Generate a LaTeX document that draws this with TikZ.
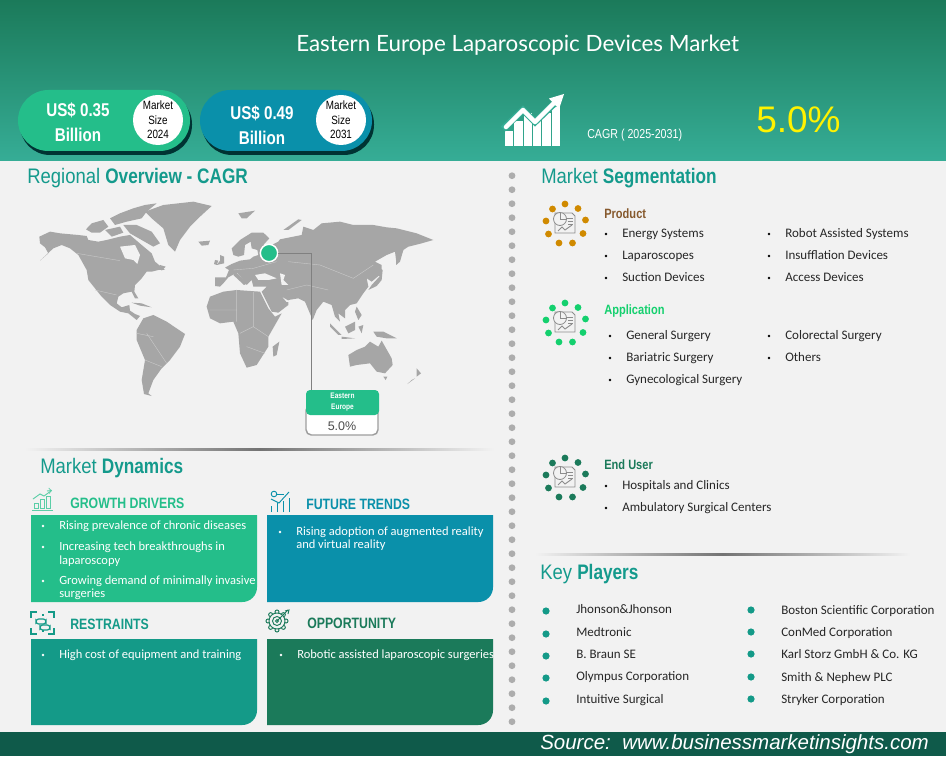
\documentclass[tikz,border=0pt]{standalone}
\usepackage{fontspec}
\usetikzlibrary{calc}
\setmainfont{Carlito}
\newfontfamily\condf[FakeStretch=0.82]{Liberation Sans}
\newfontfamily\titlef{Lato}
\newfontfamily\plainf{Liberation Sans}
\newfontfamily\headf[FakeStretch=0.88]{Liberation Sans}
\newcommand{\pxfont}[1]{\fontsize{\fpeval{#1*0.75}}{\fpeval{#1*0.9}}\selectfont}
\definecolor{pagebg}{HTML}{F2F2F2}
\definecolor{topg}{HTML}{1B7A5A}
\definecolor{botg}{HTML}{36AD96}
\definecolor{cgreen}{HTML}{24BE8A}
\definecolor{cblue}{HTML}{0A90AA}
\definecolor{cteal}{HTML}{149A88}
\definecolor{cdark}{HTML}{1B7A5A}
\definecolor{headteal}{HTML}{149A8C}
\definecolor{mapgray}{HTML}{A6A6A6}
\definecolor{mapline}{HTML}{C9C9C9}
\definecolor{footg}{HTML}{0F5A4A}
\definecolor{cprod}{HTML}{D08A00}
\definecolor{capp}{HTML}{14D06E}
\definecolor{iconline}{HTML}{8C8C8C}
\tikzset{
 lbl/.style={anchor=west,inner sep=0pt,text height=.72em,text depth=.2em},
 bodytxt/.style={lbl,font=\pxfont{13},text=black!85},
 whitetxt/.style={lbl,font=\pxfont{12.5},text=white},
 sect/.style={lbl,font=\headf\pxfont{21},text=headteal},
 dynhead/.style={lbl,font=\condf\bfseries\pxfont{15}},
 pilltxt/.style={inner sep=0pt,font=\condf\bfseries\pxfont{18.5},text=white,align=center},
 sizetxt/.style={circle,fill=white,minimum size=37.5pt,inner sep=0pt,font=\condf\pxfont{12},text=black,align=center},
 sep/.style={left color=pagebg,right color=pagebg,middle color=black!55},
 mapland/.style={fill=mapgray},
 maphole/.style={fill=pagebg},
 mapborder/.style={draw=mapline,line width=.3pt},
 pics/segicon/.style={code={
   \foreach \a/\b in {0/-19,13/-14.5,20.5/-3,18/10.5,7.5/20,-6/20,-16.5/11,-19/-2,-12.5/-14}
     \fill[#1] (\a,\b) circle[radius=3.4];
   \draw[iconline,line width=.6pt,fill=pagebg] (-10,-10) -- (7,-10) -- (10,-7) -- (10,10) -- (-10,10) -- cycle;
   \draw[iconline,line width=.6pt,fill=pagebg] (-5,-4) circle[radius=6.5];
   \draw[iconline,line width=.6pt] (-5,-10.5) -- (-5,-4) -- (1.5,-4);
   \draw[iconline,line width=.6pt] (2,-5) -- (8,-5) (3,-2) -- (8,-2) (3,1) -- (8,1);
   \draw[iconline,line width=.7pt] (-7,8) -- (-3,4) -- (0,7) -- (7,2);
 }},
}
\begin{document}
\begin{tikzpicture}[x=0.75pt,y=-0.75pt]
\useasboundingbox (0,0) rectangle (946,759);
\fill[white] (0,0) rectangle (946,759);
\fill[pagebg] (0,161) rectangle (946,732);
\shade[top color=topg,bottom color=botg] (0,0) rectangle (946,161);
% footer
\fill[footg] (0,732) rectangle (946,756);
\node[lbl,font=\plainf\itshape\pxfont{20.5},text=white] (source) at (540,746) {Source:\ \ www.businessmarketinsights.com};
% title
\node[lbl,font=\titlef\pxfont{22.4},text=white] (title) at (296,48) {Eastern Europe Laparoscopic Devices Market};
% pills
\fill[black!60!teal,rounded corners=22.5pt] (20,94) rectangle (192,155);
\fill[cgreen,rounded corners=22.8pt] (18,90) rectangle (190,151);
\node[pilltxt] (v1) at (78,122) {US\$ 0.35\\[2pt]Billion};
\node[sizetxt] (s1) at (158,120) {Market\\Size\\2024};
\fill[black!60!teal,rounded corners=22.5pt] (202,94) rectangle (374,155);
\fill[cblue,rounded corners=22.8pt] (200,90) rectangle (372,151);
\node[pilltxt] (v2) at (262,125) {US\$ 0.49\\[2pt]Billion};
\node[sizetxt] (s2) at (341,120) {Market\\Size\\2031};
% cagr icon
\foreach \xa/\ya in {505/131,514.3/121,523.7/113,533/121,542.3/113,552/107}
  \fill[white] (\xa,146) rectangle (\xa+8.2,\ya);
\draw[botg,line width=5pt,line join=miter] (503,129) -- (523,110) -- (535,122) -- (557,101);
\draw[white,line width=3.4pt,line join=round,line cap=round] (506,127) -- (523,110) -- (535,122) -- (555,102);
\fill[white] (564,94) -- (549,98.5) -- (559,109) -- cycle;
\node[lbl,font=\condf\pxfont{13},text=white] (cagr) at (587,135) {CAGR ( 2025-2031)};
\node[lbl,font=\plainf\pxfont{37},text=yellow] (cagrv) at (756,129) {5.0\%};
% dotted divider
\foreach \i in {0,...,39}
  \fill[black!32] (512,175.7+14*\i) circle[radius=3.4];
% section titles
\node[sect] (h1) at (27,180) {Regional {\condf\bfseries Overview - CAGR}};
\node[sect] (h2) at (541,180) {Market {\condf\bfseries Segmentation}};
\node[sect] (h3) at (40,470) {Market {\condf\bfseries Dynamics}};
\node[sect] (h4) at (540,576) {Key {\condf\bfseries Players}};
% separators
\shade[sep] (25,448) rectangle (494,450.5);
\shade[sep] (535,553.3) rectangle (910,555.3);
% world map
\begin{scope}[shift={(20,190)},x=0.25pt,y=-0.25pt]
\fill[mapland] (58,140) -- (90,125) -- (120,130) -- (175,135) -- (200,138) -- (205,150) -- (235,155) -- (260,150) -- (300,140) -- (330,135) -- (365,165) -- (395,190) -- (405,215) -- (435,240) -- (415,240) -- (395,245) -- (380,245) -- (365,265) -- (345,285) -- (343,305) -- (355,325) -- (345,325) -- (335,305) -- (310,310) -- (295,320) -- (290,340) -- (305,352) -- (328,345) -- (330,362) -- (345,372) -- (360,378) -- (350,390) -- (325,370) -- (300,365) -- (270,345) -- (245,320) -- (225,295) -- (205,270) -- (200,240) -- (175,195) -- (150,175) -- (125,165) -- (100,175) -- (60,212) -- (85,190) -- (75,172) -- (60,160) -- cycle;
\fill[maphole] (300,170) -- (345,165) -- (360,195) -- (352,222) -- (340,210) -- (315,205) -- cycle;
\fill[mapland] (198,118) -- (215,100) -- (250,90) -- (265,110) -- (240,128) -- (215,128) -- cycle;
\fill[mapland] (270,85) -- (300,70) -- (340,55) -- (375,45) -- (410,40) -- (380,65) -- (365,85) -- (320,95) -- (285,105) -- cycle;
\fill[mapland] (310,105) -- (350,105) -- (395,125) -- (420,160) -- (400,170) -- (365,150) -- (330,130) -- cycle;
\fill[mapland] (255,120) -- (300,110) -- (310,128) -- (275,140) -- cycle;
\fill[mapland] (420,225) -- (437,230) -- (425,242) -- cycle;
\fill[mapland] (335,338) -- (365,340) -- (395,352) -- (360,347) -- cycle;
% Greenland, Iceland
\fill[mapland] (375,65) -- (430,45) -- (520,35) -- (575,48) -- (540,80) -- (510,110) -- (480,150) -- (465,185) -- (445,165) -- (430,115) -- (395,85) -- cycle;
\fill[mapland] (535,155) -- (570,152) -- (565,165) -- (545,167) -- cycle;
% South America
\fill[mapland] (350,420) -- (370,385) -- (400,375) -- (440,395) -- (495,432) -- (480,470) -- (450,510) -- (425,535) -- (400,570) -- (385,610) -- (395,618) -- (372,612) -- (365,570) -- (375,510) -- (350,450) -- cycle;
% Africa
\fill[mapland] (560,350) -- (570,320) -- (610,305) -- (650,300) -- (720,305) -- (745,355) -- (765,380) -- (785,370) -- (745,440) -- (745,470) -- (710,525) -- (680,533) -- (660,490) -- (655,430) -- (640,395) -- (600,400) -- (570,385) -- cycle;
% Eurasia
\fill[mapland] (600,290) -- (585,288) -- (585,262) -- (618,262) -- (627,240) -- (615,233) -- (635,222) -- (660,212) -- (690,208) -- (700,200) -- (715,195) -- (712,180) -- (695,175) -- (692,155) -- (675,165) -- (672,195) -- (655,200) -- (640,195) -- (635,175) -- (660,150) -- (695,128) -- (730,128) -- (748,145) -- (730,165) -- (745,170) -- (775,155) -- (780,148) -- (820,140) -- (845,135) -- (850,110) -- (880,120) -- (905,100) -- (960,95) -- (1000,105) -- (1060,105) -- (1100,112) -- (1130,115) -- (1190,130) -- (1240,150) -- (1205,160) -- (1165,170) -- (1150,180) -- (1130,225) -- (1125,185) -- (1100,195) -- (1065,215) -- (1085,225) -- (1085,250) -- (1055,275) -- (1040,265) -- (1045,290) -- (1030,310) -- (1010,340) -- (990,345) -- (975,360) -- (975,385) -- (955,370) -- (960,395) -- (945,380) -- (935,345) -- (910,335) -- (890,360) -- (878,390) -- (855,335) -- (835,325) -- (805,330) -- (805,345) -- (775,368) -- (755,365) -- (725,305) -- (740,290) -- (700,290) -- (695,270) -- (680,285) -- (665,262) -- (650,248) -- (625,262) -- (610,280) -- cycle;
\fill[mapland] (645,245) -- (665,262) -- (682,280) -- (672,285) -- (640,255) -- cycle;
\fill[maphole] (705,255) -- (735,250) -- (770,265) -- (745,270) -- (715,270) -- cycle;
\fill[maphole] (780,250) -- (795,255) -- (790,270) -- (805,285) -- (785,285) -- cycle;
\fill[maphole] (788,322) -- (812,336) -- (800,336) -- cycle;
% islands
\fill[mapland] (600,195) -- (612,200) -- (612,220) -- (590,225) -- (600,212) -- cycle;
\fill[mapland] (585,210) -- (595,212) -- (590,225) -- (582,222) -- cycle;
\fill[mapland] (1045,300) -- (1070,288) -- (1085,270) -- (1088,240) -- (1075,232) -- (1078,260) -- (1055,285) -- cycle;
\fill[mapland] (1150,180) -- (1130,190) -- (1128,225) -- (1140,215) -- cycle;
\fill[mapland] (1010,350) -- (1025,375) -- (1015,390) -- (1005,365) -- cycle;
\fill[mapland] (930,400) -- (965,435) -- (955,435) -- (930,410) -- cycle;
\fill[mapland] (965,440) -- (1005,445) -- (965,447) -- cycle;
\fill[mapland] (975,410) -- (1005,395) -- (1005,420) -- (985,430) -- cycle;
\fill[mapland] (1015,410) -- (1030,405) -- (1025,430) -- cycle;
\fill[mapland] (1060,425) -- (1090,425) -- (1130,445) -- (1100,445) -- (1070,440) -- cycle;
\fill[mapland] (985,495) -- (1010,480) -- (1035,470) -- (1050,455) -- (1075,470) -- (1085,452) -- (1115,505) -- (1118,525) -- (1095,550) -- (1070,545) -- (1050,520) -- (1010,525) -- (990,530) -- cycle;
\fill[mapland] (1090,560) -- (1102,560) -- (1097,570) -- cycle;
\fill[mapland] (1190,535) -- (1203,550) -- (1190,560) -- cycle;
\fill[mapland] (1185,565) -- (1162,582) -- (1175,570) -- cycle;
\fill[mapland] (778,455) -- (770,495) -- (760,500) -- (758,470) -- cycle;
\fill[mapland] (790,120) -- (835,88) -- (845,90) -- (805,120) -- cycle;
\fill[mapland] (655,70) -- (705,62) -- (680,85) -- (665,85) -- cycle;
% borders
\draw[mapborder] (170,190) -- (300,212) (225,300) -- (290,315) (640,240) -- (700,235) -- (770,215) (805,215) -- (900,225) -- (1000,265) -- (1060,225) (800,300) -- (860,285) -- (925,300) (650,300) -- (650,395) (700,305) -- (700,410) -- (660,430) (570,360) -- (650,360) (700,410) -- (745,440) (680,470) -- (735,490) (380,430) -- (440,520) (375,510) -- (425,530) (350,430) -- (400,440);
\end{scope}
% marker and callout
\node[circle,fill=cgreen,draw=white,line width=1.1pt,minimum size=13pt,inner sep=0pt] (marker) at (269,253) {};
\draw[fill=white,draw=black!38,line width=1.1pt,rounded corners=4pt] (306,405) rectangle (378,435);
\node[fill=cgreen,rounded corners=3pt,minimum width=54.75pt,minimum height=18.75pt,inner sep=0pt,font=\condf\bfseries\pxfont{8},text=white,align=center] (callhead) at (342.5,402.5) {Eastern\\[1pt]Europe};
\node[inner sep=0pt,font=\plainf\pxfont{12.5},text=black!70] (callval) at (342,426) {5.0\%};
\draw[black!50,line width=.6pt] (marker.east) -| ($(callhead.north west)+(6,0)$);
% dynamics boxes
\fill[cgreen] (31,515) -- (257,515) [rounded corners=11pt] -- (257,602) [sharp corners] -- (31,602) -- cycle;
\fill[cblue] (267,515) -- (493,515) [rounded corners=11pt] -- (493,602) [sharp corners] -- (267,602) -- cycle;
\fill[cteal] (31,639) -- (257,639) [rounded corners=11pt] -- (257,725) [sharp corners] -- (31,725) -- cycle;
\fill[cdark] (267,639) -- (493,639) [rounded corners=11pt] -- (493,725) [sharp corners] -- (267,725) -- cycle;
\node[dynhead,text=cgreen] (d1) at (70,505) {GROWTH DRIVERS};
\node[dynhead,text=cblue] (d2) at (306,506) {FUTURE TRENDS};
\node[dynhead,text=cteal] (d3) at (70,626) {RESTRAINTS};
\node[dynhead,text=cdark] (d4) at (307,625) {OPPORTUNITY};
% dynamics icons
\begin{scope}[cgreen!75,line width=.7pt]
\draw (32,510) -- (53,510);
\foreach \xa/\ya in {34/503,40/499,46/496} \draw (\xa,508.5) rectangle (\xa+4,\ya);
\draw (33,499) -- (40,494) -- (44,496) -- (51,491);
\draw[->] (47,491) -- (52,490.5);
\end{scope}
\begin{scope}[cblue,line width=.7pt]
\foreach \xa/\ya in {271/506,277/503,283/501,289/498} \draw (\xa,512) -- (\xa,\ya);
\draw (271,499) -- (279,503) -- (289,492);
\draw (274,494) circle[radius=2.8];
\draw (277,494) -- (284,494);
\end{scope}
\begin{scope}[cteal,line width=.9pt]
\draw (31,618) -- (31,612) -- (37,612) (48,612) -- (54,612) -- (54,618) (31,628) -- (31,634) -- (37,634) (48,634) -- (54,634) -- (54,628);
\draw[rounded corners=2pt] (36,619) rectangle (46,624);
\draw[rounded corners=2pt] (40,625) rectangle (50,630);
\draw (43,614) -- (43,616) (43,630) -- (43,632);
\end{scope}
\begin{scope}[cdark,line width=.7pt]
\foreach \a in {0,45,...,315} \draw ({277+9*cos(\a)},{621-9*sin(\a)}) circle[radius=2];
\draw[fill=pagebg] (277,621) circle[radius=8];
\draw (277,621) circle[radius=4.5] (277,621) circle[radius=1.5];
\draw (277,621) -- (288,610);
\draw (285,611) -- (289,610) -- (288,614);
\end{scope}
% dynamics text
\foreach \xa/\ya in {43/526,43/547,43/581,280/532,43/655,281/655}
  \fill[white] (\xa,\ya) circle[radius=1.3];
\node[whitetxt] (g1) at (59,526) {Rising prevalence of chronic diseases};
\node[whitetxt] (g2) at (59,547) {Increasing tech breakthroughs in};
\node[whitetxt] (g2b) at (59,561) {laparoscopy};
\node[whitetxt] (g3) at (59,581) {Growing demand of minimally invasive};
\node[whitetxt] (g3b) at (59,594) {surgeries};
\node[whitetxt] (f1) at (296,532) {Rising adoption of augmented reality};
\node[whitetxt] (f1b) at (296,545) {and virtual reality};
\node[whitetxt] (r1) at (59,655) {High cost of equipment and training};
\node[whitetxt] (o1) at (297,655) {Robotic assisted laparoscopic surgeries};
% segmentation
\pic at (565,223) {segicon=cprod};
\pic at (565,322) {segicon=capp};
\pic at (565,477) {segicon=cdark};
\node[lbl,font=\condf\bfseries\pxfont{13.5},text=brown!70!black] (p0) at (604,215) {Product};
\node[lbl,font=\condf\bfseries\pxfont{13.5},text=capp] (a0) at (604,311) {Application};
\node[lbl,font=\condf\bfseries\pxfont{13.5},text=cdark] (e0) at (604,466) {End User};
\foreach \xa/\ya in {606/234,606/256,606/278,769/234,769/256,769/278,610/336,610/358,610/380,769/336,769/358,606/486,606/508}
  \fill[black] (\xa,\ya) circle[radius=1.4];
\node[bodytxt] (p1) at (622,234) {Energy Systems};
\node[bodytxt] (p2) at (622,256) {Laparoscopes};
\node[bodytxt] (p3) at (622,278) {Suction Devices};
\node[bodytxt] (p4) at (785,234) {Robot Assisted Systems};
\node[bodytxt] (p5) at (785,256) {Insufflation Devices};
\node[bodytxt] (p6) at (785,278) {Access Devices};
\node[bodytxt] (a1) at (626,336) {General Surgery};
\node[bodytxt] (a2) at (626,358) {Bariatric Surgery};
\node[bodytxt] (a3) at (626,380) {Gynecological Surgery};
\node[bodytxt] (a4) at (785,336) {Colorectal Surgery};
\node[bodytxt] (a5) at (785,358) {Others};
\node[bodytxt] (e1) at (622,486) {Hospitals and Clinics};
\node[bodytxt] (e2) at (622,508) {Ambulatory Surgical Centers};
% key players
\foreach \ya in {611,634,656,678,701}
  \fill[cteal] (546,\ya) circle[radius=3.6];
\foreach \ya in {610,632,654,677,699}
  \fill[cteal] (751,\ya) circle[radius=3.6];
\node[bodytxt] (k1) at (576,610) {Jhonson\&Jhonson};
\node[bodytxt] (k2) at (576,633) {Medtronic};
\node[bodytxt] (k3) at (576,655) {B. Braun SE};
\node[bodytxt] (k4) at (576,677) {Olympus Corporation};
\node[bodytxt] (k5) at (576,700) {Intuitive Surgical};
\node[bodytxt] (k6) at (781,611) {Boston Scientific Corporation};
\node[bodytxt] (k7) at (781,633) {ConMed Corporation};
\node[bodytxt] (k8) at (781,655) {Karl Storz GmbH \& Co. KG};
\node[bodytxt] (k9) at (781,678) {Smith \& Nephew PLC};
\node[bodytxt] (k10) at (781,700) {Stryker Corporation};
\end{tikzpicture}
\end{document}
